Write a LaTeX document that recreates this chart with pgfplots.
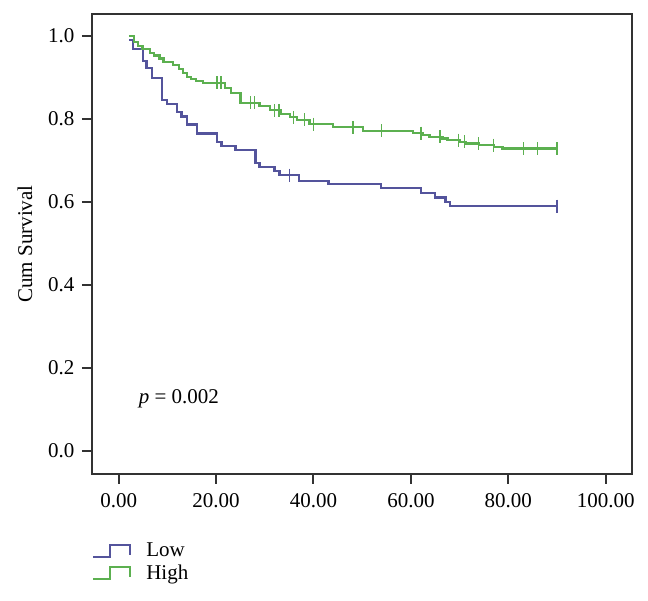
\documentclass[border=0pt]{standalone}
\usepackage{fontspec}
\setmainfont{Liberation Serif}
\usepackage{pgfplots}
\pgfplotsset{compat=1.18}
\definecolor{lowc}{RGB}{84,84,156}
\definecolor{highc}{RGB}{92,176,80}
\definecolor{axc}{RGB}{50,50,50}
\begin{document}
\begin{tikzpicture}
\begin{axis}[
  scale only axis, width=540pt, height=460pt,
  xmin=-5.48, xmax=105.4, ymin=-0.055, ymax=1.053,
  xtick={0,20,40,60,80,100}, ytick={0,0.2,0.4,0.6,0.8,1.0},
  xticklabel={\pgfmathprintnumber[fixed,fixed zerofill,precision=2]{\tick}},
  yticklabel={\pgfmathprintnumber[fixed,fixed zerofill,precision=1]{\tick}},
  /pgf/number format/assume math mode=true,
  tick align=outside, major tick length=10pt,
  xtick pos=lower, ytick pos=left,
  axis line style={axc, line width=2pt},
  every tick/.style={axc, line width=2pt},
  tick label style={font=\fontsize{21}{24}\selectfont, text=black},
  yticklabel style={xshift=-4pt},
  xticklabel style={yshift=-6pt},
  ylabel={Cum Survival},
  ylabel style={font=\fontsize{21}{24}\selectfont, at={(axis description cs:-0.124,0.5)}, anchor=center, rotate=0},
  legend style={at={(axis description cs:0,-0.145)}, anchor=north west, draw=none, fill=none,
    font=\fontsize{21}{24}\selectfont, row sep=3pt, inner sep=0pt},
  legend cell align=left,
  legend image code/.code={\draw[#1, line width=2pt] (0pt,-6pt) -- (17pt,-6pt) -- (17pt,6pt) -- (37pt,6pt) -- (37pt,-4pt); \path (50pt,0pt);},
]
\addplot[const plot, lowc, line width=2.2pt] coordinates {
(2.2,0.99)(2.9,0.968)(5.0,0.94)(5.7,0.922)(6.9,0.898)(8.9,0.846)(9.9,0.836)(11.9,0.816)(12.9,0.806)(14.0,0.787)(16.1,0.765)(20.2,0.744)(21.1,0.735)(24.0,0.725)(28.1,0.694)(28.9,0.684)(32.0,0.675)(33.0,0.665)(37.0,0.651)(43.1,0.643)(53.9,0.633)(62.1,0.622)(65.0,0.611)(67.1,0.601)(68.0,0.590)(90,0.590)
};
\addlegendentry{Low}
\addplot[const plot, highc, line width=2.2pt] coordinates {
(2.1,1.0)(3.1,0.986)(4.0,0.976)(4.9,0.968)(6.5,0.96)(7.2,0.953)(8.4,0.946)(9.2,0.937)(11.1,0.930)(12.4,0.920)(13.2,0.91)(14.0,0.902)(14.9,0.896)(15.9,0.892)(17.3,0.887)(21.9,0.875)(23.1,0.862)(25.0,0.839)(28.9,0.831)(31.0,0.821)(33.4,0.812)(35.1,0.804)(36.6,0.798)(39.2,0.788)(44.0,0.780)(50.1,0.772)(60.4,0.766)(62.4,0.761)(63.8,0.757)(66.5,0.753)(67.5,0.749)(70.0,0.745)(71.2,0.741)(74.0,0.737)(77.1,0.733)(78.8,0.729)(90,0.729)
};
\addlegendentry{High}
\addplot[only marks, mark=|, mark size=6.5pt, lowc, mark options={line width=1.3pt}, forget plot] coordinates {
(35.1,0.665)(90,0.590)
};
\addplot[only marks, mark=|, mark size=6.5pt, highc, mark options={line width=1.3pt}, forget plot] coordinates {
(20.2,0.887)(21.0,0.887)(27.0,0.839)(27.9,0.839)(32.0,0.821)(32.9,0.821)(35.9,0.804)(38.2,0.798)(40.0,0.788)(48.1,0.780)(54.0,0.772)(62.1,0.766)(66.0,0.757)(69.8,0.749)(71.0,0.745)(73.9,0.741)(76.9,0.737)(83.1,0.729)(86.0,0.729)(90,0.729)
};
\node[anchor=west, font=\fontsize{21}{24}\selectfont] at (axis cs:3.4,0.127) {\textit{p} = 0.002};
\end{axis}
\pgfresetboundingbox
\path (-92pt,-127pt) rectangle (556pt,474pt);
\end{tikzpicture}
\end{document}
